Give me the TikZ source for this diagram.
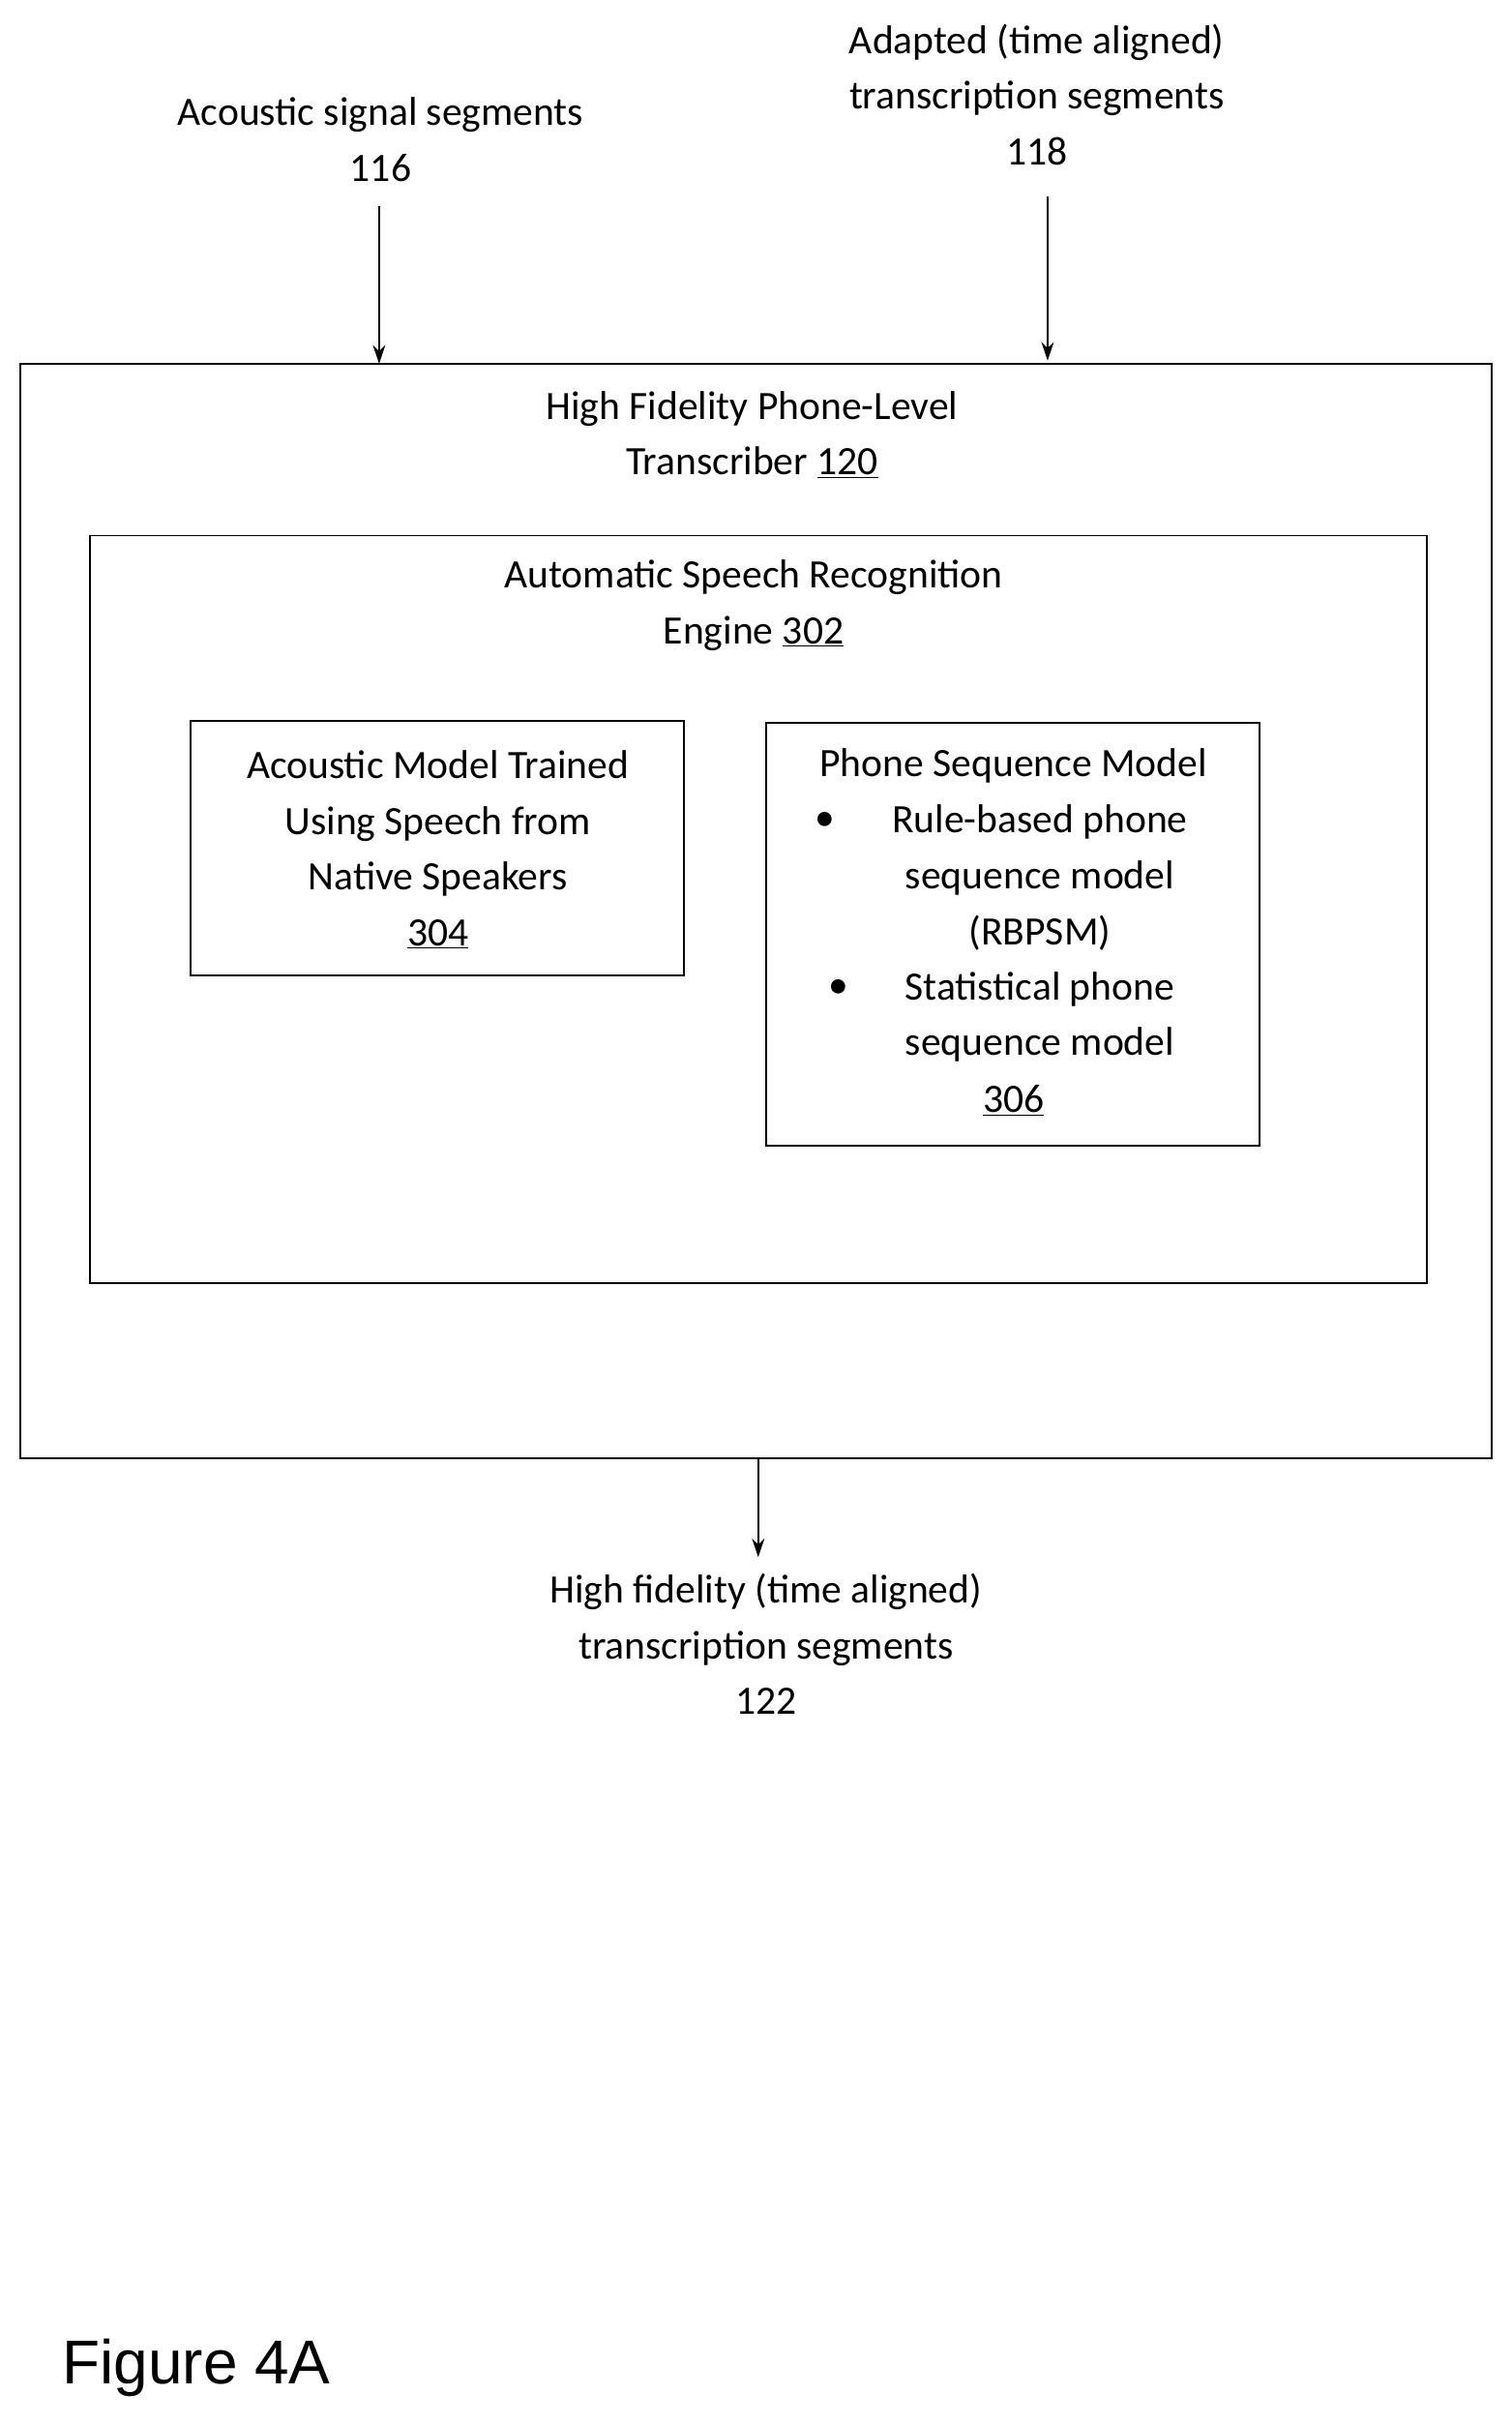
\documentclass[tikz,border=0pt]{standalone}
\usepackage{fontspec}
\setmainfont{Carlito}
\newfontfamily\arialf{Liberation Sans}
\usetikzlibrary{arrows.meta}
\begin{document}
\begin{tikzpicture}[x=1pt,y=-1pt,
  box/.style={draw,line width=1.2pt},
  txt/.style={font=\fontsize{26}{36}\selectfont,align=center,inner sep=0pt},
  arr/.style={draw,line width=1.2pt,-{Stealth[length=12pt,width=8pt]}}]
\useasboundingbox (0,0) rectangle (977,1566);
\draw[box] (13,235) rectangle (964,942);
\draw[box] (58,346) rectangle (922,829);
\draw[box] (123,466) rectangle (442,630);
\draw[box] (495,467) rectangle (814,740);
\node[txt] (t116) at (246,90) {Acoustic signal segments\\116};
\node[txt] (t118) at (670,61) {Adapted (time aligned)\\transcription segments\\118};
\node[txt] (t120) at (486,281) {High Fidelity Phone-Level\\Transcriber \underline{120}};
\node[txt] (t302) at (487,391) {Automatic Speech Recognition\\Engine \underline{302}};
\node[txt] (t304) at (283,549) {Acoustic Model Trained\\Using Speech from\\Native Speakers\\\underline{304}};
\node[txt] (t306a) at (655,495) {Phone Sequence Model};
\node[txt] (b1) at (533,531) {•};
\node[txt] (t306b) at (672,567) {Rule-based phone\\sequence model\\(RBPSM)};
\node[txt] (b2) at (542,639) {•};
\node[txt] (t306c) at (672,657) {Statistical phone\\sequence model};
\node[txt] (t306d) at (655,711) {\underline{306}};
\node[txt] (t122) at (495,1062) {High fidelity (time aligned)\\transcription segments\\122};
\node[font=\arialf\fontsize{40}{48}\selectfont,anchor=west,inner sep=0pt] (fig) at (40,1530) {Figure 4A};
\coordinate (a1) at (245,133); \coordinate (a1e) at (245,235);
\coordinate (a2) at (677,127); \coordinate (a2e) at (677,233);
\coordinate (a3) at (490,942); \coordinate (a3e) at (490,1006);
\draw[arr] (a1) -- (a1e);
\draw[arr] (a2) -- (a2e);
\draw[arr] (a3) -- (a3e);
\end{tikzpicture}
\end{document}
